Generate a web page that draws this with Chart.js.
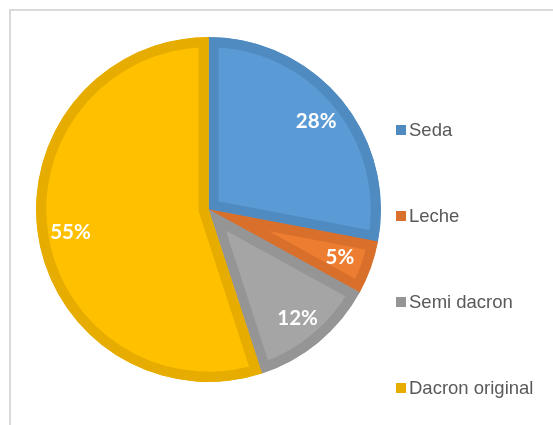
<!DOCTYPE html>
<html>
<head>
<meta charset="utf-8">
<script src="https://cdn.jsdelivr.net/npm/chart.js@4/dist/chart.umd.min.js"></script>
<style>
  html, body { margin: 0; padding: 0; background: #fff; overflow: hidden; }
  #wrap { position: relative; width: 553px; height: 425px; }
  #frame {
    position: absolute; left: 9px; top: 9px; width: 700px; height: 600px;
    border-left: 2px solid #d9d9d9; border-top: 2px solid #d9d9d9;
  }
  #fibras { position: absolute; left: 0; top: 0; }
</style>
</head>
<body>
<div id="wrap">
  <div id="frame"></div>
  <canvas id="fibras" width="553" height="425"></canvas>
</div>
<script>
// Fibre types and their share (%)
const labels = ["Seda", "Leche", "Semi dacron", "Dacron original"];
const shares = [28, 5, 12, 55];
const fillColors = ["#5b9bd5", "#ed7d31", "#a5a5a5", "#ffc000"];
const edgeColors = ["#4f8bc1", "#d86f2a", "#959595", "#e6ad00"];

// Percent labels drawn inside each slice
const sliceLabels = {
  id: "sliceLabels",
  afterDatasetsDraw(chart) {
    const { ctx } = chart;
    const meta = chart.getDatasetMeta(0);
    const data = chart.data.datasets[0].data;
    const total = data.reduce((a, b) => a + b, 0);
    ctx.save();
    ctx.font = "bold 20.5px Lato, 'Open Sans', sans-serif";
    ctx.fillStyle = "#ffffff";
    ctx.textAlign = "center";
    ctx.textBaseline = "middle";
    meta.data.forEach((arc, i) => {
      const { x, y, startAngle, endAngle, outerRadius } = arc.getProps(
        ["x", "y", "startAngle", "endAngle", "outerRadius"], true);
      const mid = (startAngle + endAngle) / 2;
      const r = outerRadius * 0.81;
      const pct = Math.round((data[i] / total) * 100) + "%";
      ctx.fillText(pct, x + Math.cos(mid) * r, y + Math.sin(mid) * r + 1);
    });
    ctx.restore();
  },
};

// Legend on the right, one entry per fibre, spaced down the side
const sideLegend = {
  id: "sideLegend",
  afterDraw(chart) {
    const { ctx } = chart;
    const ds = chart.data.datasets[0];
    const boxX = 396, textX = 409, firstY = 130, step = 86, box = 10;
    ctx.save();
    ctx.font = "18.5px 'Liberation Sans', Arial, sans-serif";
    ctx.textBaseline = "middle";
    ctx.textAlign = "left";
    chart.data.labels.forEach((name, i) => {
      const cy = firstY + i * step;
      ctx.fillStyle = ds.borderColor[i];
      ctx.fillRect(boxX, cy - box / 2, box, box);
      ctx.fillStyle = "#595959";
      ctx.fillText(name, textX, cy + 1);
    });
    ctx.restore();
  },
};

const fibrasChart = new Chart(document.getElementById("fibras").getContext("2d"), {
  type: "pie",
  data: {
    labels: labels,
    datasets: [
      {
        data: shares,
        backgroundColor: fillColors,
        borderColor: edgeColors,
        borderWidth: 10,
        borderAlign: "inner",
        hoverOffset: 0,
      },
    ],
  },
  options: {
    responsive: false,
    animation: false,
    layout: { padding: { left: 36, right: 172, top: 37, bottom: 43 } },
    plugins: {
      legend: { display: false },
      tooltip: { enabled: false },
    },
  },
  plugins: [sliceLabels, sideLegend],
});
</script>
</body>
</html>
